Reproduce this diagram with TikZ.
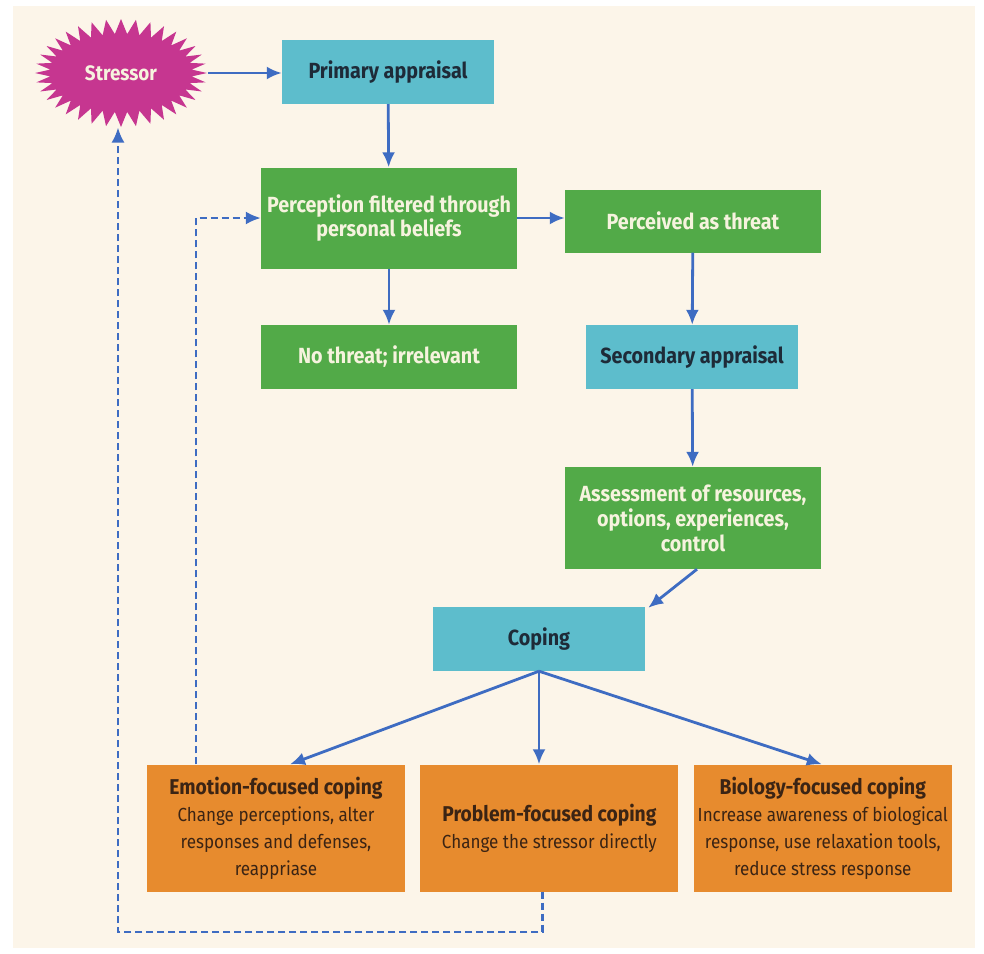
\documentclass[tikz,border=0pt]{standalone}
\usepackage{fontspec}
\setmainfont[FakeStretch=0.9]{Fira Sans}
\usetikzlibrary{positioning,shapes.symbols,arrows.meta}

\definecolor{bgcream}{HTML}{FCF5E9}
\definecolor{apprblue}{HTML}{5DBDCC}
\definecolor{percgreen}{HTML}{52AA48}
\definecolor{copeorange}{HTML}{E78B2E}
\definecolor{stressmag}{HTML}{C63690}
\definecolor{flowblue}{HTML}{3E6CC2}
\definecolor{darktext}{HTML}{1E2B38}
\definecolor{lighttext}{HTML}{F6F3DE}
\definecolor{browntext}{HTML}{3B2414}

\tikzset{
  boxbase/.style={rectangle, inner sep=0pt, align=center, font=\fontsize{22}{25}\selectfont\bfseries},
  apprbox/.style={boxbase, fill=apprblue, text=darktext, minimum width=212bp, minimum height=64bp},
  percbox/.style={boxbase, fill=percgreen, text=lighttext, minimum width=256bp, minimum height=64bp},
  copebox/.style={boxbase, fill=copeorange, text=browntext, minimum width=258bp, minimum height=127bp,
    font=\fontsize{19}{27}\selectfont},
  burst/.style={starburst, fill=stressmag, draw=none, text=lighttext, random starburst=0,
    starburst points=36, starburst point height=15bp, minimum width=172bp, minimum height=108bp,
    inner sep=0pt, font=\fontsize{21}{24}\selectfont\bfseries},
  flow/.style={draw=flowblue, line width=2.8bp, -{Latex[length=15bp,width=13bp]}},
  flowdash/.style={flow, line width=2.4bp, dash pattern=on 7bp off 4bp},
}
\newcommand{\copehead}[1]{{\fontsize{21.5}{27}\selectfont\bfseries #1}}

\begin{document}
\begin{tikzpicture}[x=1bp, y=-1bp]
  \useasboundingbox (0,0) rectangle (984,954);
  \fill[white] (0,0) rectangle (984,954);
  \fill[bgcream] (13,6) rectangle (975,948);

  % appraisal chain
  \node[burst] (stressor) at (121,73) {Stressor};
  \node[apprbox] (primary) at (388,72) {Primary appraisal};
  \path (primary) ++ (1,146) node[percbox, minimum height=101bp] (filter)
    {Perception filtered through\\personal beliefs};
  \path (filter) ++ (0,139) node[percbox] (nothreat) {No threat; irrelevant};
  \node[percbox, minimum height=63bp] (threat) at (693,221) {Perceived as threat};
  \path (threat) ++ (-1,136) node[apprbox] (secondary) {Secondary appraisal};
  \path (secondary) ++ (1,161) node[percbox, minimum height=102bp] (assess)
    {Assessment of resources,\\options, experiences,\\control};
  \node[apprbox] (coping) at (539,639) {Coping};

  % coping styles
  \node[copebox] (emotion) at (276,828)
    {\copehead{Emotion-focused coping}\\Change perceptions, alter\\responses and defenses,\\reappriase};
  \node[copebox, right=15bp of emotion] (problem)
    {\copehead{Problem-focused coping}\\Change the stressor directly};
  \node[copebox, right=15bp of problem] (biology)
    {\copehead{Biology-focused coping}\\Increase awareness of biological\\response, use relaxation tools,\\reduce stress response};

  \draw[flow] (stressor.east) -- (stressor.east -| primary.west);
  \draw[flow] (primary) -- (filter);
  \draw[flow] (filter.east) -- (filter.east -| threat.west);
  \draw[flow] (filter) -- (nothreat);
  \draw[flow] (threat) -- (secondary);
  \draw[flow] (secondary) -- (assess);
  \draw[flow] ([xshift=4bp]assess.south) -- ([xshift=3bp,yshift=-1bp]coping.north east);
  \draw[flow] (coping.south) -- ([xshift=14bp]emotion.north);
  \draw[flow] (coping.south) -- (coping.south |- problem.north);
  \draw[flow] (coping.south) -- ([xshift=-1bp]biology.north);

  % feedback loops
  \draw[flowdash] ([xshift=-80bp]emotion.north) |- (filter.west);
  \draw[flowdash] ([xshift=-7bp]problem.south) -- ++(0,40) -| ([xshift=-3bp]stressor.south);
\end{tikzpicture}
\end{document}
